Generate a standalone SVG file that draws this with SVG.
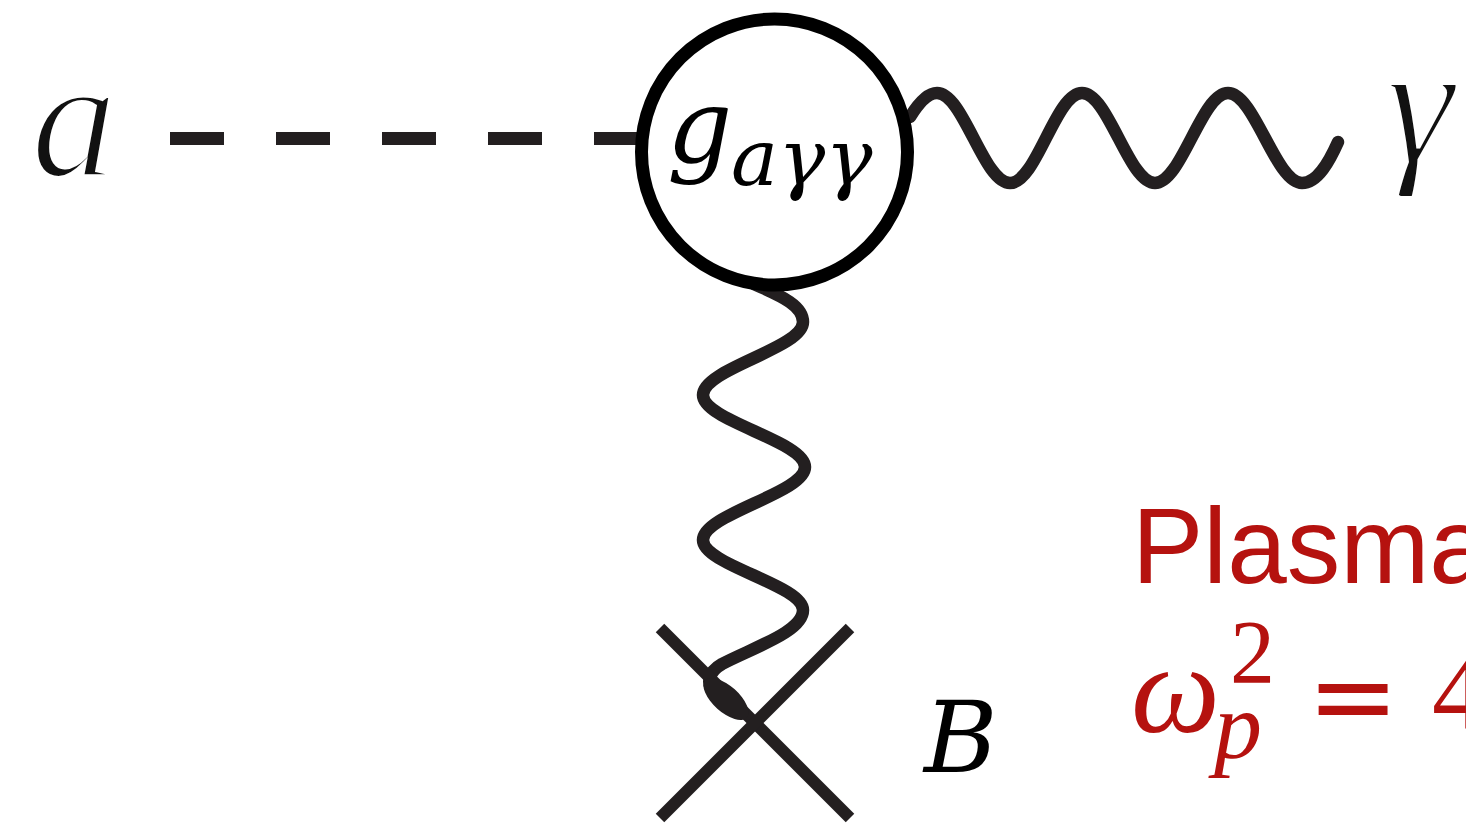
<svg xmlns="http://www.w3.org/2000/svg" width="1466" height="827" viewBox="0 0 1466 827">
<style>
.line{fill:none;stroke:#231f20;stroke-width:12.5;stroke-linecap:round;stroke-linejoin:round}
.dash{fill:none;stroke:#231f20;stroke-width:13;stroke-dasharray:54 52}
.cross{stroke:#231f20;stroke-width:12;stroke-linecap:butt}
.lbl{font-family:"Liberation Serif",serif;font-style:italic;fill:#111;stroke:#fff;stroke-width:4}
.math{font-family:"DejaVu Serif",serif;font-style:italic;fill:#000}
.red{fill:#b5120f}
</style>
<rect width="1466" height="827" fill="#fff"/>
<g id="connectors">
<line class="dash" x1="170" y1="138.5" x2="640" y2="138.5"/>
<path class="line" d="M910,117 C918,104 927,93 937,93 C963.4,93 983.6,183 1010,183 C1036.4,183 1055.6,93 1082,93 C1108.4,93 1128.6,183 1155,183 C1181.4,183 1201.6,93 1228,93 C1254.4,93 1275.6,183 1302,183 C1318,183 1330,160 1338,142"/>
<path class="line" d="M754,284 C776,294 803,304 803,322 C803,348.5 703,368.5 703,395 C703,421 805,441 805,467 C805,493 703,514 703,540 C703,565 803,585 803,610 C803,632 752,648 722,664 C708,672 706,684 714,692"/>
</g>
<g id="node-a">
<text class="lbl" x="31" y="176" font-size="172">a</text>
</g>
<g id="node-vertex">
<circle cx="774.5" cy="152" r="133" fill="#fff" stroke="#000" stroke-width="13"/>
<text class="math" x="667" y="162" font-size="102">g</text>
<text class="math" x="731" y="185" font-size="79">aγγ</text>
</g>
<g id="node-gamma">
<text class="lbl" x="1386" y="161" font-size="172">γ</text>
</g>
<g id="node-B">
<line class="cross" x1="660" y1="628" x2="850" y2="818"/>
<line class="cross" x1="850" y1="628" x2="660" y2="818"/>
<ellipse cx="726" cy="699" rx="28" ry="13" transform="rotate(42 726 699)" fill="#231f20"/>
<text class="math" x="924" y="772" font-size="100">B</text>
</g>
<g id="node-plasma">
<text class="red" x="1132" y="583" font-family="Liberation Sans, sans-serif" font-size="107">Plasma</text>
<text class="red" font-family="Liberation Serif, serif"><tspan x="1131" y="732" font-style="italic" font-size="126">ω</tspan><tspan x="1230" y="683" font-size="90">2</tspan><tspan x="1214" y="758" font-style="italic" font-size="96">p</tspan><tspan x="1307" y="734" font-family="DejaVu Sans, sans-serif" font-size="110">=</tspan><tspan x="1432" y="729" font-size="107">4</tspan></text>
</g>
</svg>
